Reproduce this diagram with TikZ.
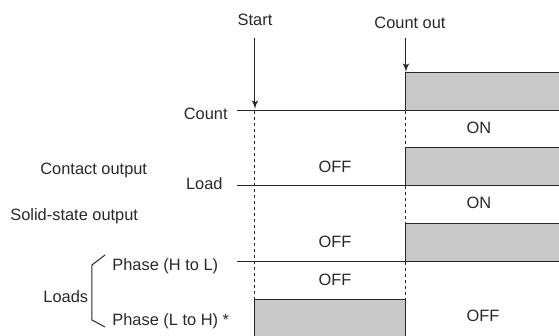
\documentclass[tikz,border=0pt]{standalone}
\usepackage{fontspec}
\setmainfont{Liberation Sans}
\usepackage{xcolor}
\usepackage{tikz}
\usetikzlibrary{arrows}
\definecolor{boxgray}{RGB}{200,200,201}
\definecolor{ink}{RGB}{40,40,40}
\tikzstyle{line} = [draw=ink, line width=0.5pt, -latex']
\tikzstyle{txt} = [inner sep=0pt, text=ink, font=\fontsize{8.2}{10}\selectfont]
\tikzstyle{rail} = [draw=ink, line width=0.5pt]
\tikzstyle{guide} = [draw=ink, line width=0.5pt, dash pattern=on 1.5pt off 1.5pt]
\tikzstyle{level} = [fill=boxgray]

\begin{document}
\begin{tikzpicture}[x=0.5pt, y=-0.5pt]
		\useasboundingbox (0,0) rectangle (559,336);
		\node[txt] (start) at (255,20) {Start};
		\node[txt] (cntout) at (410,23) {Count out};
		\coordinate (startT) at (255,38); \coordinate (startH) at (255,109);
		\coordinate (cntT) at (406,38); \coordinate (cntH) at (406,72);
		\draw[line](startT)-- (startH);
		\draw[line](cntT)-- (cntH);
		% left labels
		\node[txt, anchor=east] (count) at (228,114) {Count};
		\node[txt, anchor=west] (contact) at (40,170) {Contact output};
		\node[txt, anchor=east] (load) at (223,184) {Load};
		\node[txt, anchor=west] (solid) at (10,216) {Solid-state output};
		\node[txt, anchor=west] (phHL) at (112,266) {Phase (H to L)};
		\node[txt, anchor=west] (loads) at (43,297) {Loads};
		\node[txt, anchor=west] (phLH) at (112,321) {Phase (L to H) *};
		\draw[rail] (105,255) -- (92,265) -- (92,320) -- (105,327);
		% levels
		\fill[level] (406,73) rectangle (559,111);
		\fill[level] (406,148) rectangle (559,186);
		\fill[level] (406,224) rectangle (559,262);
		\fill[level] (255,300) rectangle (406,336);
		\draw[rail] (237,111) -- (406,111) -- (406,73) -- (559,73);
		\draw[rail] (406,111) -- (559,111);
		\draw[rail] (237,186) -- (406,186) -- (406,148) -- (559,148);
		\draw[rail] (406,186) -- (559,186);
		\draw[rail] (237,262) -- (406,262) -- (406,224) -- (559,224);
		\draw[rail] (406,262) -- (559,262);
		\draw[rail] (255,336) -- (255,300) -- (406,300) -- (406,336);
		\draw[guide] (255,111) -- (255,300);
		\draw[guide] (406,111) -- (406,148);
		\draw[guide] (406,186) -- (406,224);
		\draw[guide] (406,262) -- (406,300);
		% states
		\node[txt] (on1) at (479,128) {ON};
		\node[txt] (off1) at (335,167) {OFF};
		\node[txt] (on2) at (479,203) {ON};
		\node[txt] (off2) at (335,242) {OFF};
		\node[txt] (off3) at (335,280) {OFF};
		\node[txt] (off4) at (483,316) {OFF};
	\end{tikzpicture}
\end{document}
